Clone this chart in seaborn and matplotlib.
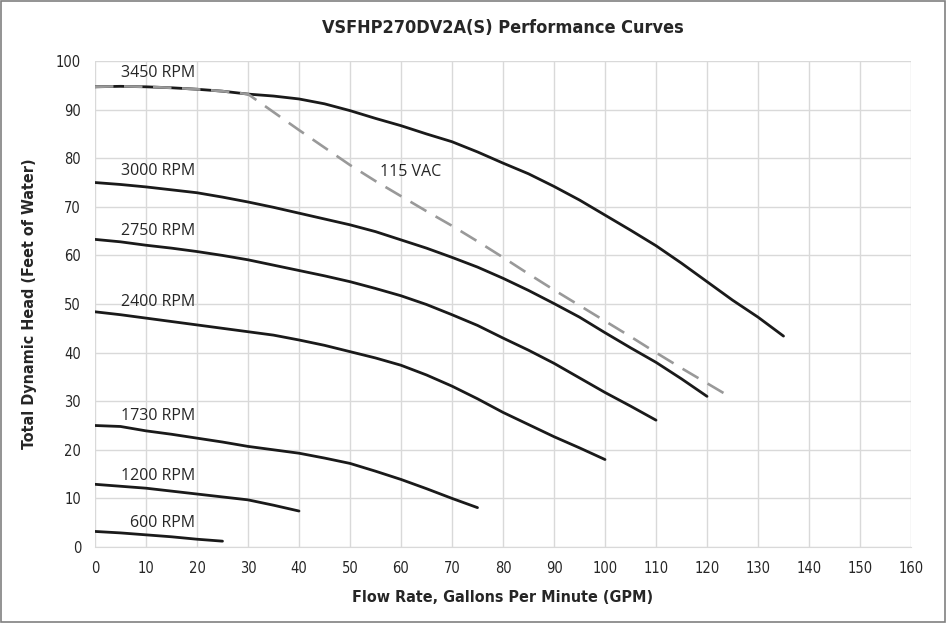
import matplotlib
matplotlib.use("Agg")
import matplotlib.pyplot as plt
import matplotlib.patches as mpatches
import pandas as pd
import numpy as np
import seaborn as sns

# 各转速曲线数据 (GPM, ft)
flow_3450 = [0, 5, 10, 15, 20, 25, 30, 35, 40, 45, 50, 55, 60, 65, 70, 75, 80, 85, 90, 95, 100, 105, 110, 115, 120, 125, 130, 135]
head_3450 = [94.7, 94.8, 94.7, 94.5, 94.2, 93.8, 93.2, 92.8, 92.2, 91.2, 89.8, 88.2, 86.7, 85.0, 83.4, 81.3, 79.0, 76.8, 74.2, 71.4, 68.3, 65.2, 62.0, 58.4, 54.6, 50.8, 47.3, 43.4]
flow_3000 = [0, 5, 10, 15, 20, 25, 30, 35, 40, 45, 50, 55, 60, 65, 70, 75, 80, 85, 90, 95, 100, 105, 110, 115, 120]
head_3000 = [75.0, 74.6, 74.1, 73.5, 72.9, 72.0, 71.0, 69.9, 68.7, 67.5, 66.3, 64.9, 63.2, 61.5, 59.6, 57.6, 55.3, 52.8, 50.1, 47.3, 44.1, 41.0, 38.0, 34.6, 31.0]
flow_2750 = [0, 5, 10, 15, 20, 25, 30, 35, 40, 45, 50, 55, 60, 65, 70, 75, 80, 85, 90, 95, 100, 105, 110]
head_2750 = [63.3, 62.8, 62.1, 61.5, 60.8, 60.0, 59.1, 58.0, 56.9, 55.8, 54.6, 53.2, 51.7, 49.9, 47.8, 45.6, 43.0, 40.5, 37.8, 34.8, 31.8, 29.0, 26.1]
flow_2400 = [0, 5, 10, 15, 20, 25, 30, 35, 40, 45, 50, 55, 60, 65, 70, 75, 80, 85, 90, 95, 100]
head_2400 = [48.4, 47.8, 47.1, 46.4, 45.7, 45.0, 44.3, 43.6, 42.6, 41.5, 40.2, 38.9, 37.4, 35.4, 33.1, 30.5, 27.7, 25.2, 22.7, 20.4, 18.0]
flow_1730 = [0, 5, 10, 15, 20, 25, 30, 35, 40, 45, 50, 55, 60, 65, 70, 75]
head_1730 = [25.0, 24.8, 23.9, 23.2, 22.4, 21.6, 20.7, 20.0, 19.3, 18.3, 17.2, 15.6, 13.9, 12.0, 10.0, 8.1]
flow_1200 = [0, 5, 10, 15, 20, 25, 30, 35, 40]
head_1200 = [12.9, 12.5, 12.1, 11.5, 10.9, 10.3, 9.7, 8.6, 7.4]
flow_600 = [0, 5, 10, 15, 20, 25]
head_600 = [3.2, 2.9, 2.5, 2.1, 1.6, 1.2]
flow_115vac = [0, 5, 10, 15, 20, 25, 30, 35, 40, 45, 50, 55, 60, 65, 70, 75, 80, 85, 90, 95, 100, 105, 110, 115, 120, 125]
head_115vac = [94.7, 94.8, 94.7, 94.5, 94.2, 93.8, 93.2, 89.5, 85.8, 82.2, 78.6, 75.3, 72.2, 69.1, 66.1, 62.9, 59.6, 56.2, 52.9, 49.7, 46.5, 43.3, 40.0, 36.8, 33.7, 30.6]

curves = [
    ("3450 RPM", flow_3450, head_3450, 97.5),
    ("3000 RPM", flow_3000, head_3000, 77.4),
    ("2750 RPM", flow_2750, head_2750, 65.0),
    ("2400 RPM", flow_2400, head_2400, 50.4),
    ("1730 RPM", flow_1730, head_1730, 27.0),
    ("1200 RPM", flow_1200, head_1200, 14.6),
    ("600 RPM", flow_600, head_600, 4.9),
]

sns.set_style("whitegrid", {"grid.color": "#d9d9d9", "axes.edgecolor": "#d9d9d9"})
plt.rcParams["font.family"] = ["Open Sans", "DejaVu Sans"]
narrow = dict(family="DejaVu Sans", stretch="condensed")

fig = plt.figure(figsize=(9.47, 6.23), dpi=100)
ax = fig.add_axes([0.1003, 0.122, 0.8617, 0.780])

for name, fx, hy, ly in curves:
    sns.lineplot(x=fx, y=hy, ax=ax, color="#1a1a1a", linewidth=2.0, sort=False)
    lx = 13.3 if name == "600 RPM" else 12.4
    ax.text(lx, ly, name, ha="center", va="center", fontsize=11.5, color="#262626")

sns.lineplot(x=flow_115vac, y=head_115vac, ax=ax, color="#999999", linewidth=1.9, sort=False,
             linestyle=(0, (7, 4)))
ax.text(61.8, 77.2, "115 VAC", ha="center", va="center", fontsize=11.5, color="#262626")

ax.set_xlim(0, 160)
ax.set_ylim(0, 100)
ax.set_xticks(np.arange(0, 161, 10))
ax.set_yticks(np.arange(0, 101, 10))
ax.grid(True, color="#d9d9d9", linewidth=1)
for s in ["left", "right", "top"]:
    ax.spines[s].set_visible(False)
ax.spines["bottom"].set_color("#d9d9d9")
ax.tick_params(axis="both", length=0, labelsize=10.5, colors="#262626", pad=10)
for lab in ax.get_xticklabels() + ax.get_yticklabels():
    lab.set_family("DejaVu Sans")
    lab.set_stretch("condensed")

ax.set_xlabel("Flow Rate, Gallons Per Minute (GPM)", fontsize=11.5, fontweight="bold",
              color="#262626", labelpad=10, **narrow)
ax.set_ylabel("Total Dynamic Head (Feet of Water)", fontsize=11.5, fontweight="bold",
              color="#262626", labelpad=14, **narrow)
fig.text(0.5 * (0.1003 + 0.962), 1 - 28 / 623, "VSFHP270DV2A(S) Performance Curves",
         ha="center", va="center", fontsize=13, fontweight="bold", color="#262626", **narrow)

fig.add_artist(mpatches.Rectangle((0.001, 0.001), 0.997, 0.997, transform=fig.transFigure,
                                  fill=False, edgecolor="#808080", linewidth=1.2))

fig.savefig("out.png", dpi=100)
